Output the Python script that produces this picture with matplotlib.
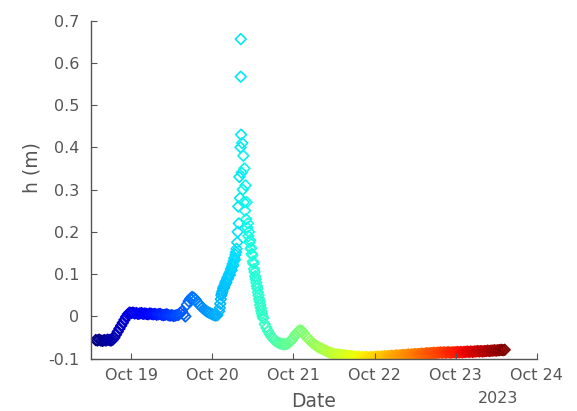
import numpy as np
import pandas as pd
import matplotlib
matplotlib.use("Agg")
from matplotlib import pyplot as plt
import matplotlib.dates as mdates

# water level h (m)
t0 = pd.Timestamp("2023-10-18 00:00")

# part A: every 30 min from 13:30 Oct 18 to 01:30 Oct 20
h_a = [-0.056, -0.057, -0.055, -0.057, -0.058, -0.056, -0.057, -0.055, -0.056, -0.057, -0.055,
       -0.050, -0.043, -0.036, -0.029, -0.022, -0.015, -0.008, -0.001, 0.005, 0.009,
       0.008, 0.009, 0.007, 0.008, 0.006, 0.007, 0.008, 0.006, 0.007, 0.006, 0.005, 0.007, 0.006, 0.005,
       0.006, 0.004, 0.005, 0.006, 0.004, 0.003, 0.004, 0.005, 0.003, 0.002, 0.003, 0.001, 0.002, 0.003,
       0.004, 0.008, 0.012, 0.005, 0.000, 0.028, 0.036, 0.042, 0.046,
       0.044, 0.040, 0.034, 0.029, 0.025, 0.021, 0.017, 0.014, 0.011, 0.009, 0.007, 0.005, 0.003, 0.002, 0.003]

# part B: every 10 min from 02:00 to 15:00 Oct 20 (the surge)
h_b = [0.012, 0.020, 0.030, 0.041, 0.050, 0.055,
       0.060, 0.066, 0.070, 0.068, 0.074, 0.079,
       0.083, 0.080, 0.088, 0.092, 0.090, 0.097,
       0.101, 0.098, 0.106, 0.112, 0.109, 0.118,
       0.124, 0.120, 0.131, 0.138, 0.134, 0.146,
       0.152, 0.160, 0.175, 0.200, 0.260, 0.220,
       0.330, 0.280, 0.400, 0.430, 0.340, 0.410,
       0.300, 0.380, 0.270, 0.350, 0.250, 0.310,
       0.230, 0.270, 0.210, 0.220, 0.190, 0.200,
       0.175, 0.180, 0.160, 0.162, 0.148, 0.145,
       0.130, 0.125, 0.112, 0.105, 0.095, 0.088,
       0.080, 0.072, 0.066, 0.057, 0.050, 0.042,
       0.035, 0.027, 0.020, 0.013, 0.007, 0.001,
       -0.004]

# two isolated spikes near the peak
spike_hours = [56.4, 56.4]
spike_h = [0.656, 0.567]

# part C: every 30 min from 15:30 Oct 20 to 14:30 Oct 23
h_c = [-0.018, -0.027, -0.035, -0.042, -0.048, -0.053, -0.057, -0.060, -0.062, -0.064, -0.065,
       -0.066, -0.066, -0.065, -0.063, -0.060, -0.056, -0.050, -0.044, -0.039, -0.035, -0.033,
       -0.034, -0.039, -0.045, -0.050, -0.054, -0.058, -0.062, -0.065, -0.068, -0.071, -0.073,
       -0.075, -0.077, -0.079, -0.081, -0.083, -0.085, -0.086, -0.088, -0.089, -0.090,
       -0.090, -0.091, -0.091, -0.092, -0.092, -0.093, -0.093, -0.094, -0.094, -0.095,
       -0.095, -0.096, -0.095, -0.096, -0.097, -0.096, -0.097, -0.096, -0.097, -0.097,
       -0.096, -0.097, -0.096, -0.096, -0.095, -0.096, -0.095, -0.095, -0.094, -0.095,
       -0.094, -0.094, -0.093, -0.094, -0.093, -0.092, -0.093, -0.092, -0.092, -0.091,
       -0.092, -0.091, -0.090, -0.091, -0.090, -0.090, -0.089, -0.090, -0.089, -0.089,
       -0.088, -0.089, -0.088, -0.087, -0.088, -0.087, -0.087, -0.086, -0.087, -0.086,
       -0.086, -0.085, -0.086, -0.085, -0.086, -0.085, -0.085, -0.086, -0.085, -0.085,
       -0.085, -0.084, -0.085, -0.084, -0.085, -0.084, -0.084, -0.083, -0.084, -0.083,
       -0.084, -0.083, -0.083, -0.082, -0.083, -0.082, -0.083, -0.082, -0.082, -0.081,
       -0.082, -0.081, -0.081, -0.080, -0.081, -0.080, -0.080, -0.079, -0.080, -0.079]

hrs_a = 13.5 + 0.5 * np.arange(len(h_a))
hrs_b = 50.0 + np.arange(len(h_b)) / 6.0
hrs_c = 63.5 + 0.5 * np.arange(len(h_c))

hours = np.concatenate([hrs_a, hrs_b, spike_hours, hrs_c])
h = np.concatenate([h_a, h_b, spike_h, h_c])
order = np.argsort(hours, kind="stable")
hours, h = hours[order], h[order]
dates = t0 + pd.to_timedelta(hours, unit="h")

grey = "#555555"
plt.rcParams["font.family"] = "DejaVu Sans"
plt.rcParams["font.size"] = 11.5

fig = plt.figure(figsize=(5.77, 4.11), dpi=100)
ax = fig.add_axes([0.1572, 0.1273, 0.7730, 0.8228])

cols = plt.cm.jet((hours - hours.min()) / (hours.max() - hours.min()))
ax.scatter(dates, h, s=30, marker="D", facecolors="none", edgecolors=cols, linewidths=1.2)

ax.set_xlim(pd.Timestamp("2023-10-18 12:00"), pd.Timestamp("2023-10-24 00:00"))
ax.set_ylim(-0.1, 0.7)
ax.xaxis.set_major_locator(mdates.DayLocator())
ax.xaxis.set_major_formatter(mdates.DateFormatter("%b %d"))
ax.set_yticks(np.arange(-0.1, 0.71, 0.1))
ax.set_yticklabels(["-0.1", "0", "0.1", "0.2", "0.3", "0.4", "0.5", "0.6", "0.7"])

for s in ["top", "right"]:
    ax.spines[s].set_visible(False)
for s in ["left", "bottom"]:
    ax.spines[s].set_color(grey)
    ax.spines[s].set_linewidth(1.0)
ax.tick_params(direction="in", length=4, width=0.8, colors=grey, labelcolor=grey)
ax.tick_params(axis="x", pad=7)
ax.tick_params(axis="y", pad=8)

ax.set_xlabel("Date", color=grey, fontsize=13.5)
ax.xaxis.set_label_coords(0.5, -0.098)
ax.set_ylabel("h (m)", color=grey, fontsize=13.5)
ax.yaxis.set_label_coords(-0.11, 0.564)
fig.text(498 / 577, 1 - 398 / 411, "2023", color=grey, ha="center", va="center")

fig.savefig("out.png", dpi=100)
